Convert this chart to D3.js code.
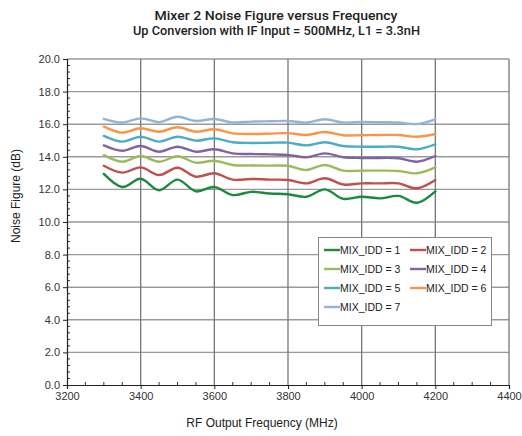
<!DOCTYPE html>
<html><head><meta charset="utf-8">
<script src="https://cdn.jsdelivr.net/npm/d3@7"></script>
<style>body{margin:0;background:#fff}svg{display:block}</style>
</head><body>
<script>
const freqs = [3300,3350,3400,3450,3500,3550,3600,3650,3700,3750,3800,3850,3900,3950,4000,4050,4100,4150,4200];
const mix1 = [12.95,12.15,12.65,11.95,12.6,11.88,12.15,11.65,11.85,11.75,11.7,11.55,12.0,11.42,11.55,11.45,11.6,11.18,11.88];
const mix2 = [13.45,13.03,13.35,12.88,13.33,12.78,12.99,12.6,12.64,12.6,12.58,12.37,12.68,12.3,12.37,12.37,12.37,12.07,12.58];
const mix3 = [14.1,13.7,14.05,13.7,14.03,13.64,13.76,13.5,13.47,13.46,13.45,13.19,13.5,13.15,13.15,13.15,13.13,12.99,13.35];
const mix4 = [14.7,14.37,14.66,14.31,14.62,14.31,14.46,14.21,14.17,14.15,14.12,13.97,14.21,13.97,13.93,13.93,13.91,13.7,14.05];
const mix5 = [15.28,14.93,15.23,14.93,15.23,14.99,15.13,14.89,14.85,14.86,14.87,14.7,14.89,14.66,14.62,14.62,14.62,14.46,14.77];
const mix6 = [15.85,15.48,15.75,15.54,15.81,15.54,15.69,15.44,15.4,15.42,15.45,15.34,15.52,15.32,15.32,15.34,15.34,15.23,15.4];
const mix7 = [16.33,16.1,16.36,16.13,16.46,16.2,16.32,16.11,16.16,16.18,16.2,16.1,16.3,16.1,16.14,16.12,16.1,16.01,16.3];
const seriesNames = ["MIX_IDD = 1","MIX_IDD = 2","MIX_IDD = 3","MIX_IDD = 4","MIX_IDD = 5","MIX_IDD = 6","MIX_IDD = 7"];
const seriesColors = ["#1b8a3c","#c0504d","#9bbb59","#8064a2","#4bacc6","#f79646","#95b3d7"];
const xTicks = [3200,3400,3600,3800,4000,4200,4400];
const yTicks = [0,2,4,6,8,10,12,14,16,18,20];
const title = "Mixer 2 Noise Figure versus Frequency";
const subtitle = "Up Conversion with IF Input = 500MHz, L1 = 3.3nH";
const xLabel = "RF Output Frequency (MHz)";
const yLabel = "Noise Figure (dB)";

const series = [mix1,mix2,mix3,mix4,mix5,mix6,mix7];
const W = 522, H = 436;
const m = {left:67, right:13, top:59, bottom:51};
const svg = d3.select("body").append("svg").attr("width",W).attr("height",H);
const x = d3.scaleLinear().domain([3200,4400]).range([m.left, W-m.right]);
const y = d3.scaleLinear().domain([0,20]).range([H-m.bottom, m.top]);
const font = "'Liberation Sans', Arial, sans-serif";

// gridlines
svg.append("g").selectAll("line").data(yTicks.slice(1)).join("line")
  .attr("x1",m.left).attr("x2",W-m.right).attr("y1",d=>y(d)).attr("y2",d=>y(d))
  .attr("stroke","#999").attr("stroke-width",1.4);
svg.append("g").selectAll("line").data(xTicks.slice(1)).join("line")
  .attr("x1",d=>x(d)).attr("x2",d=>x(d)).attr("y1",m.top).attr("y2",H-m.bottom)
  .attr("stroke","#777").attr("stroke-width",1.3);

// minor ticks (inward)
const xMinor = d3.range(3200,4401,50).filter(v=>v%200!==0);
const yMinor = d3.range(0,20.01,0.4).filter(v=>Math.abs(v/2-Math.round(v/2))>1e-6);
svg.append("g").selectAll("line").data(xMinor).join("line")
  .attr("x1",d=>x(d)).attr("x2",d=>x(d)).attr("y1",H-m.bottom).attr("y2",H-m.bottom-3)
  .attr("stroke","#333").attr("stroke-width",1);
svg.append("g").selectAll("line").data(yMinor).join("line")
  .attr("x1",m.left).attr("x2",m.left+3).attr("y1",d=>y(d)).attr("y2",d=>y(d))
  .attr("stroke","#333").attr("stroke-width",1);

// axes
const xAxis = svg.append("g").attr("transform",`translate(0,${H-m.bottom})`)
  .call(d3.axisBottom(x).tickValues(xTicks).tickFormat(d3.format("d")).tickSize(4).tickPadding(3));
const yAxis = svg.append("g").attr("transform",`translate(${m.left},0)`)
  .call(d3.axisLeft(y).tickValues(yTicks).tickFormat(d3.format(".1f")).tickSize(4).tickPadding(3));
[xAxis,yAxis].forEach(a=>{
  a.select(".domain").attr("stroke","#222").attr("stroke-width",1.2);
  a.selectAll(".tick line").attr("stroke","#222");
  a.selectAll("text").attr("font-family",font).attr("font-size",11).attr("fill","#333");
});

// lines
const line = d3.line().x((d,i)=>x(freqs[i])).y(d=>y(d)).curve(d3.curveCatmullRom.alpha(0.5));
svg.append("g").selectAll("path").data(series).join("path")
  .attr("d",d=>line(d)).attr("fill","none")
  .attr("stroke",(d,i)=>seriesColors[i]).attr("stroke-width",2.4)
  .attr("stroke-linejoin","round").attr("stroke-linecap","round");

// titles
svg.append("text").attr("x",276).attr("y",20).attr("text-anchor","middle")
  .attr("font-family","Roboto, sans-serif").attr("font-weight",500).attr("font-size",13.5)
  .attr("fill","#222").attr("textLength",243).attr("lengthAdjust","spacingAndGlyphs").text(title);
svg.append("text").attr("x",276.5).attr("y",35).attr("text-anchor","middle")
  .attr("font-family","Roboto, sans-serif").attr("font-weight",500).attr("font-size",12.5)
  .attr("fill","#222").attr("textLength",287).attr("lengthAdjust","spacingAndGlyphs").text(subtitle);
svg.append("text").attr("x",262).attr("y",427).attr("text-anchor","middle")
  .attr("font-family",font).attr("font-size",12).attr("fill","#222").text(xLabel);
svg.append("text").attr("transform",`translate(20,196) rotate(-90)`)
  .attr("text-anchor","middle").attr("font-family",font).attr("font-size",12)
  .attr("fill","#222").text(yLabel);

// legend
const lg = svg.append("g");
lg.append("rect").attr("x",318.5).attr("y",237.5).attr("width",173).attr("height",88)
  .attr("fill","#fff").attr("stroke","#888").attr("stroke-width",1);
seriesNames.forEach((n,i)=>{
  const col = i%2, row = Math.floor(i/2);
  const lx = 324 + col*86, ly = 250 + row*19;
  lg.append("line").attr("x1",lx).attr("x2",lx+16).attr("y1",ly).attr("y2",ly)
    .attr("stroke",seriesColors[i]).attr("stroke-width",2.4);
  lg.append("text").attr("x",lx+16).attr("y",ly+4).attr("font-family",font)
    .attr("font-size",10.5).attr("fill","#222").text(n);
});
</script>
</body></html>
